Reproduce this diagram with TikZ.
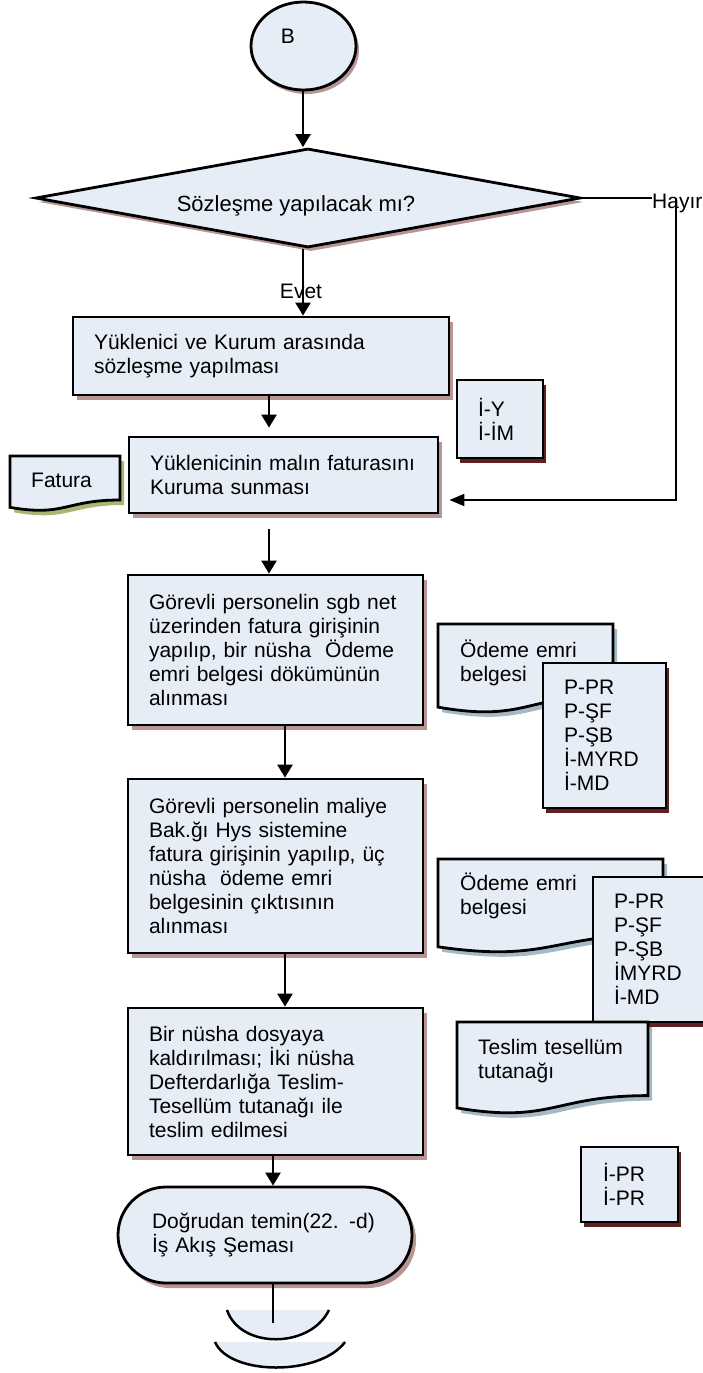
\documentclass[tikz,border=0pt]{standalone}
\usepackage{fontspec}
\setmainfont{Liberation Sans}
\usetikzlibrary{shapes.geometric,shadows,arrows.meta}
\definecolor{boxfill}{RGB}{230,237,247}
\definecolor{shproc}{RGB}{184,148,148}
\definecolor{shdark}{RGB}{94,32,32}
\definecolor{shdoc}{RGB}{163,186,198}
\definecolor{shgreen}{RGB}{168,184,116}
\newcommand\docshape[5]{%
  \begin{scope}[shift={(4,5)}]
    \fill[#5] (#1,#2) -- ({#1+#3},#2) -- ({#1+#3},{#2+0.8*#4}) .. controls ({#1+0.5*#3},{#2+0.8*#4}) and ({#1+0.5*#3},{#2+1.107*#4}) .. (#1,{#2+0.934*#4}) -- cycle;
  \end{scope}
  \draw[line width=2.8pt,fill=boxfill] (#1,#2) -- ({#1+#3},#2) -- ({#1+#3},{#2+0.8*#4}) .. controls ({#1+0.5*#3},{#2+0.8*#4}) and ({#1+0.5*#3},{#2+1.107*#4}) .. (#1,{#2+0.934*#4}) -- cycle;
}
\tikzset{
  txt/.style={font=\fontsize{21}{24}\selectfont},
  arr/.style={line width=2.5pt,-{Triangle[length=13pt,width=15pt]}},
  conn/.style={line width=2.5pt},
  thinconn/.style={line width=1.8pt},
  procshadow/.style={drop shadow={shadow xshift=4pt,shadow yshift=-5pt,fill=shproc,opacity=1}},
  proc/.style={draw,line width=2.8pt,fill=boxfill,rectangle,align=left,inner sep=0pt,txt,procshadow},
  smallbox/.style={draw,line width=2.8pt,fill=boxfill,rectangle,align=left,inner sep=0pt,txt,
    drop shadow={shadow xshift=3pt,shadow yshift=-5pt,fill=shdark,opacity=1}},
  doctext/.style={txt,align=left,inner sep=0pt,anchor=base west},
  label/.style={txt,inner sep=0pt},
}
\begin{document}
\begin{tikzpicture}[x=1pt,y=-1pt]
\fill[white] (0,0) rectangle (703,1373);
\useasboundingbox (0,0) rectangle (703,1373);

% coordinates for connector columns
\coordinate (xa) at (303,0);
\coordinate (xb) at (269,0);
\coordinate (xc) at (285,0);
\coordinate (xd) at (273,0);
\coordinate (xh) at (676,500);
\coordinate (offp) at (273,1323);

% start circle
\node[ellipse,draw,line width=2.8pt,fill=boxfill,minimum width=105pt,minimum height=88pt,inner sep=0pt,
  drop shadow={shadow xshift=3pt,shadow yshift=-4pt,fill=shproc,opacity=1}] (B) at (303.5,46) {};
\node[label,anchor=base] (Bt) at (288,43) {B};

% decision
\node[diamond,draw,line width=2.8pt,fill=boxfill,minimum width=545pt,minimum height=99pt,aspect=5.5,inner sep=0pt,
  drop shadow={shadow xshift=3pt,shadow yshift=-4pt,fill=shproc,opacity=1}] (dec) at (308,198) {};
\node[inner sep=0pt,font=\fontsize{22}{24}\selectfont,anchor=base] (dect) at (296,211) {Sözleşme yapılacak mı?};
\node[label,anchor=base west] (hay) at (652,208) {Hayır};

% process boxes
\node[proc,minimum width=376pt,minimum height=78pt,text width=334pt] (p1) at (261,356)
  {Yüklenici ve Kurum arasında\\sözleşme yapılması};
\node[proc,minimum width=309pt,minimum height=76pt,text width=267pt] (p2) at (283.5,475)
  {Yüklenicinin malın faturasını\\Kuruma sunması};
\node[proc,minimum width=295pt,minimum height=150pt,text width=253pt] (p3) at (275.5,650)
  {Görevli personelin sgb net\\üzerinden fatura girişinin\\yapılıp, bir nüsha\ \ Ödeme\\emri belgesi dökümünün\\alınması};
\node[proc,minimum width=295pt,minimum height=174pt,text width=253pt] (p4) at (275.5,866)
  {Görevli personelin maliye\\Bak.ğı Hys sistemine\\fatura girişinin yapılıp, üç\\nüsha\ \ ödeme emri\\belgesinin çıktısının\\alınması};
\node[proc,minimum width=295pt,minimum height=147pt,text width=253pt] (p5) at (275.5,1081.5)
  {Bir nüsha dosyaya\\kaldırılması; İki nüsha\\Defterdarlığa Teslim-\\Tesellüm tutanağı ile\\teslim edilmesi};
\node[proc,rounded corners=48pt,minimum width=294pt,minimum height=96pt,text width=226pt] (term) at (265,1235)
  {Doğrudan temin(22. -d)\\İş Akış Şeması};

% small boxes
\node[smallbox,minimum width=86pt,minimum height=78pt,text width=44pt] (iy) at (500,419) {İ-Y\\İ-İM};

% documents
\docshape{10}{456}{110}{55}{shgreen}
\node[doctext,text width=80pt] (fat) at (31,487) {Fatura};

\docshape{438}{624}{175}{89}{shdoc}
\node[doctext,text width=140pt] (d1) at (460,657) {Ödeme emri\\belgesi};
\node[smallbox,minimum width=123pt,minimum height=145pt,text width=81pt] (pp1) at (604.5,735.5)
  {P-PR\\P-ŞF\\P-ŞB\\İ-MYRD\\İ-MD};

\docshape{438}{859}{225}{94}{shdoc}
\node[doctext,text width=180pt] (d2) at (460,890) {Ödeme emri\\belgesi};
\node[smallbox,minimum width=125pt,minimum height=145pt,text width=83pt] (pp2) at (655.5,949.5)
  {P-PR\\P-ŞF\\P-ŞB\\İMYRD\\İ-MD};

\docshape{457}{1022}{191}{92}{shdoc}
\node[doctext,text width=160pt] (d3) at (478,1054) {Teslim tesellüm\\tutanağı};

\node[smallbox,minimum width=97pt,minimum height=75pt,text width=53pt] (ipr) at (629.5,1184.5) {İ-PR\\İ-PR};

% off-page connector
\fill[boxfill] (227,1310) .. controls (240,1349) and (310,1349) .. (329,1310) -- cycle;
\draw[conn] (227,1310) .. controls (240,1349) and (310,1349) .. (329,1310);
\fill[boxfill] (215,1342) .. controls (230,1376) and (320,1376) .. (345,1342) -- cycle;
\draw[conn] (215,1342) .. controls (230,1376) and (320,1376) .. (345,1342);

% connectors
\draw[arr] (B.south -| xa) -- (dec.north -| xa);
\draw[arr] (dec.south -| xa) -- (p1.north -| xa);
\node[label,anchor=base] (evet) at (301,298.5) {Evet};
\draw[thinconn] (dec.east) -- (dec.east -| hay.west);
\draw[thinconn,-{Triangle[length=15pt,width=12pt]},shorten >=10pt] (dec.east -| xh) -- (xh) -- (p2.east |- xh);
\draw[arr,shorten >=8pt] (p1.south -| xb) -- (p2.north -| xb);
\draw[arr,shorten <=15pt] (p2.south -| xb) -- (p3.north -| xb);
\draw[arr] (p3.south -| xc) -- (p4.north -| xc);
\draw[arr] (p4.south -| xc) -- (p5.north -| xc);
\draw[arr] (p5.south -| xd) -- (term.north -| xd);
\draw[conn] (term.south -| xd) -- (offp);
\end{tikzpicture}
\end{document}
